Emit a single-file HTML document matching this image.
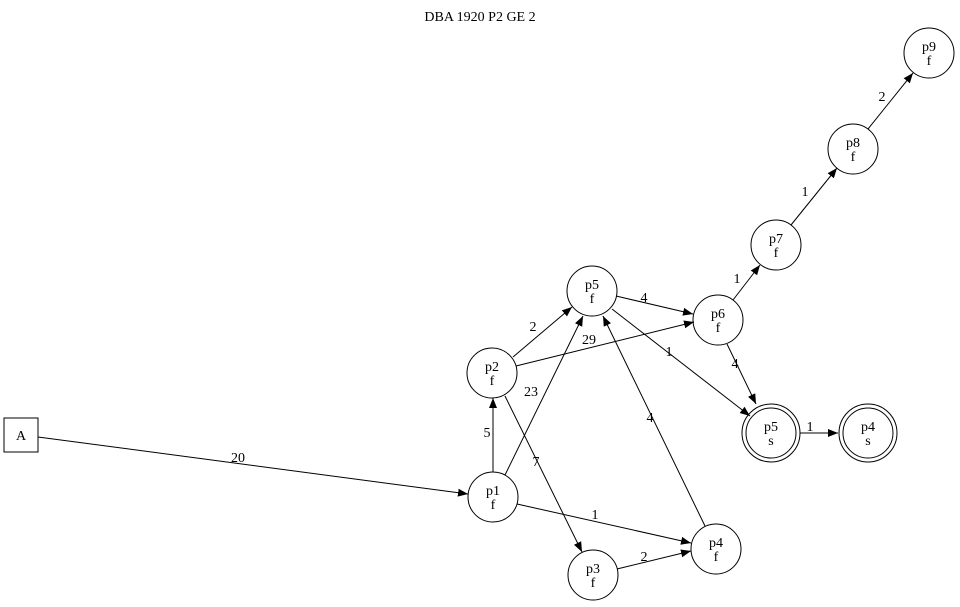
<!DOCTYPE html>
<html><head><meta charset="utf-8"><style>
html,body{margin:0;padding:0;background:#fff;width:960px;height:607px;overflow:hidden}
text{font-family:"Liberation Serif",serif;font-size:14px;fill:#000}
</style></head><body>
<svg width="960" height="607" viewBox="0 0 960 607" xmlns="http://www.w3.org/2000/svg">
<defs><marker id="a" markerUnits="userSpaceOnUse" markerWidth="11" markerHeight="10" refX="10" refY="5" orient="auto"><path d="M0,1 L10,5 L0,9 Z" fill="#000"/></marker></defs>
<text x="480" y="21" text-anchor="middle">DBA 1920 P2 GE 2</text>
<g stroke="#000" stroke-width="1" fill="none">
<rect x="4" y="418" width="34" height="34"/>
<circle cx="493" cy="497" r="25"/>
<circle cx="492" cy="373" r="25"/>
<circle cx="592" cy="291" r="25"/>
<circle cx="718" cy="320" r="25"/>
<circle cx="776" cy="245" r="25"/>
<circle cx="853" cy="149" r="25"/>
<circle cx="929" cy="53" r="25"/>
<circle cx="771" cy="433" r="25"/><circle cx="771" cy="433" r="29"/>
<circle cx="868" cy="433" r="25"/><circle cx="868" cy="433" r="29"/>
<circle cx="593" cy="575" r="25"/>
<circle cx="716" cy="549" r="25"/>
</g>
<g stroke="#000" stroke-width="1" marker-end="url(#a)">
<line x1="38" y1="437" x2="468" y2="494"/>
<line x1="493" y1="472" x2="493" y2="398"/>
<line x1="505" y1="475" x2="583" y2="316"/>
<line x1="517" y1="504" x2="691" y2="543"/>
<line x1="513" y1="357" x2="572" y2="307"/>
<line x1="516" y1="366" x2="694" y2="322"/>
<line x1="505" y1="396" x2="582" y2="552"/>
<line x1="616" y1="296" x2="693" y2="314"/>
<line x1="612" y1="309" x2="750" y2="416"/>
<line x1="733" y1="300" x2="760" y2="265"/>
<line x1="727" y1="344" x2="756" y2="404"/>
<line x1="791" y1="225" x2="837" y2="168"/>
<line x1="868" y1="129" x2="913" y2="73"/>
<line x1="800" y1="433" x2="838" y2="433"/>
<line x1="617" y1="569" x2="691" y2="551"/>
<line x1="705" y1="526" x2="603" y2="316"/>
</g>
<g text-anchor="middle">
<text x="21" y="440">A</text>
<text x="493" y="495">p1</text><text x="493" y="509">f</text>
<text x="492" y="371">p2</text><text x="492" y="385">f</text>
<text x="592" y="289">p5</text><text x="592" y="303">f</text>
<text x="718" y="318">p6</text><text x="718" y="332">f</text>
<text x="776" y="243">p7</text><text x="776" y="257">f</text>
<text x="853" y="147">p8</text><text x="853" y="161">f</text>
<text x="929" y="51">p9</text><text x="929" y="65">f</text>
<text x="771" y="431">p5</text><text x="771" y="445">s</text>
<text x="868" y="431">p4</text><text x="868" y="445">s</text>
<text x="593" y="573">p3</text><text x="593" y="587">f</text>
<text x="716" y="547">p4</text><text x="716" y="561">f</text>
<text x="238" y="462">20</text>
<text x="487" y="437">5</text>
<text x="531" y="396">23</text>
<text x="595" y="519">1</text>
<text x="533" y="331">2</text>
<text x="589" y="344">29</text>
<text x="536" y="466">7</text>
<text x="644" y="302">4</text>
<text x="669" y="356">1</text>
<text x="737" y="283">1</text>
<text x="735" y="368">4</text>
<text x="805" y="196">1</text>
<text x="882" y="101">2</text>
<text x="810" y="431">1</text>
<text x="644" y="561">2</text>
<text x="650" y="422">4</text>
</g>
</svg>
</body></html>
